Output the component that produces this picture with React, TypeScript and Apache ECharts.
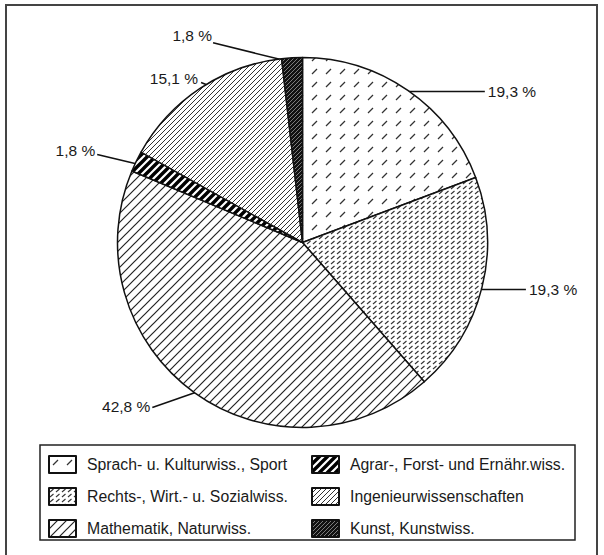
import React, { useEffect, useRef } from "react";
import * as echarts from "echarts";

const categories = [
  "Sprach- u. Kulturwiss., Sport",
  "Rechts-, Wirt.- u. Sozialwiss.",
  "Mathematik, Naturwiss.",
  "Agrar-, Forst- und Ernähr.wiss.",
  "Ingenieurwissenschaften",
  "Kunst, Kunstwiss.",
];
const shares = [19.3, 19.3, 42.8, 1.8, 15.1, 1.8];
const legendLeftColumn = categories.slice(0, 3);
const legendRightColumn = categories.slice(3);

const CX = 302.5;
const CY = 242.5;
const R = 185;

// label placement relative to the slice's outer mid point
const labelPlacement = [
  { from: [0, 1], to: [77, 1], text: [80, 1], align: "left" },
  { from: [0, 2], to: [44, 2], text: [47, 2], align: "left" },
  { from: [1, 0], to: [-42, 15], text: [-44, 14], align: "right" },
  { from: [3, 3], to: [-39, -7], text: [-41, -11], align: "right" },
  { from: [44, 11], to: [1, -6], text: [-2, -10], align: "right" },
  { from: [-2, 4], to: [-79, -15], text: [-80, -22], align: "right" },
];

function lineTile(size: number, width: number, color: string, bg: string) {
  const s = size;
  const d = `M${-s / 2},${s / 2}L${s / 2},${-s / 2}M0,${s}L${s},0M${s / 2},${1.5 * s}L${1.5 * s},${s / 2}`;
  const svg = `<svg xmlns="http://www.w3.org/2000/svg" width="${s}" height="${s}"><rect width="${s}" height="${s}" fill="${bg}"/><path d="${d}" stroke="${color}" stroke-width="${width}" fill="none"/></svg>`;
  return {
    image: "data:image/svg+xml;charset=utf-8," + encodeURIComponent(svg),
    imageWidth: s,
    imageHeight: s,
    repeat: "repeat",
  };
}

function dashTile(w: number, h: number, x1: number, y1: number, x2: number, y2: number, width: number, color: string) {
  const svg = `<svg xmlns="http://www.w3.org/2000/svg" width="${w}" height="${h}"><rect width="${w}" height="${h}" fill="#fff"/><path d="M${x1},${y1}L${x2},${y2}" stroke="${color}" stroke-width="${width}" fill="none"/></svg>`;
  return {
    image: "data:image/svg+xml;charset=utf-8," + encodeURIComponent(svg),
    imageWidth: w,
    imageHeight: h,
    repeat: "repeat",
  };
}

const fills = [
  dashTile(14, 13, 4, 9, 9, 4, 1.3, "#333"),
  dashTile(6, 5, 1, 4, 4.5, 1, 1.1, "#333"),
  lineTile(9, 1.2, "#222", "#fff"),
  lineTile(8, 3.4, "#000", "#fff"),
  lineTile(5, 1, "#333", "#fff"),
  lineTile(4, 0.9, "#888", "#111"),
];

export default function App() {
  const ref = useRef<HTMLDivElement>(null);
  useEffect(() => {
    if (!ref.current) return;
    const chart = echarts.init(ref.current, null, { renderer: "svg" });
    const font = "'Liberation Sans', Arial, sans-serif";
    const total = shares.reduce((a, b) => a + b, 0);
    const legendCommon = {
      orient: "vertical",
      top: 455,
      itemWidth: 27,
      itemHeight: 17,
      itemGap: 13,
      padding: 0,
      icon: "rect",
      selectedMode: false,
      textStyle: { fontFamily: font, fontSize: 15.8, color: "#1a1a1a", padding: [0, 0, 0, 6] },
    };
    chart.setOption({
      animation: false,
      backgroundColor: "#fff",
      graphic: [
        {
          type: "rect",
          shape: { x: 6, y: 5, width: 591, height: 560 },
          style: { fill: "none", stroke: "#444", lineWidth: 2 },
          z: 0,
        },
        {
          type: "rect",
          shape: { x: 40, y: 445, width: 535, height: 95 },
          style: { fill: "none", stroke: "#222", lineWidth: 1.5 },
          z: 0,
        },
      ],
      legend: [
        { ...legendCommon, left: 48, data: legendLeftColumn },
        { ...legendCommon, left: 311, data: legendRightColumn },
      ],
      series: [
        {
          type: "pie",
          center: [CX, CY],
          radius: R,
          startAngle: 90,
          clockwise: true,
          itemStyle: { borderColor: "#111", borderWidth: 1.5 },
          emphasis: { disabled: true },
          label: {
            show: true,
            position: "outside",
            fontFamily: font,
            fontSize: 15.5,
            color: "#1a1a1a",
            formatter: (p: any) => p.value.toFixed(1).replace(".", ",") + " %",
          },
          labelLine: { show: true, lineStyle: { color: "#111", width: 1.5 } },
          labelLayout: (params: any) => {
            const i = params.dataIndex;
            let e: number[];
            if (params.labelLinePoints && params.labelLinePoints[0]) {
              e = params.labelLinePoints[0];
            } else {
              let before = 0;
              for (let k = 0; k < i; k++) before += shares[k];
              const mid = ((before + shares[i] / 2) / total) * 2 * Math.PI;
              e = [CX + R * Math.sin(mid), CY - R * Math.cos(mid)];
            }
            const L = labelPlacement[i];
            const a = [e[0] + L.from[0], e[1] + L.from[1]];
            const b = [e[0] + L.to[0], e[1] + L.to[1]];
            return {
              x: e[0] + L.text[0],
              y: e[1] + L.text[1],
              align: L.align,
              verticalAlign: "middle",
              labelLinePoints: [a, b, b],
            };
          },
          data: categories.map((name, i) => ({
            name,
            value: shares[i],
            itemStyle: { color: fills[i] },
          })),
        },
      ],
    });
    return () => chart.dispose();
  }, []);
  return (
    <div
      ref={ref}
      style={{ position: "fixed", left: 0, top: 0, width: 604, height: 555 }}
    />
  );
}
